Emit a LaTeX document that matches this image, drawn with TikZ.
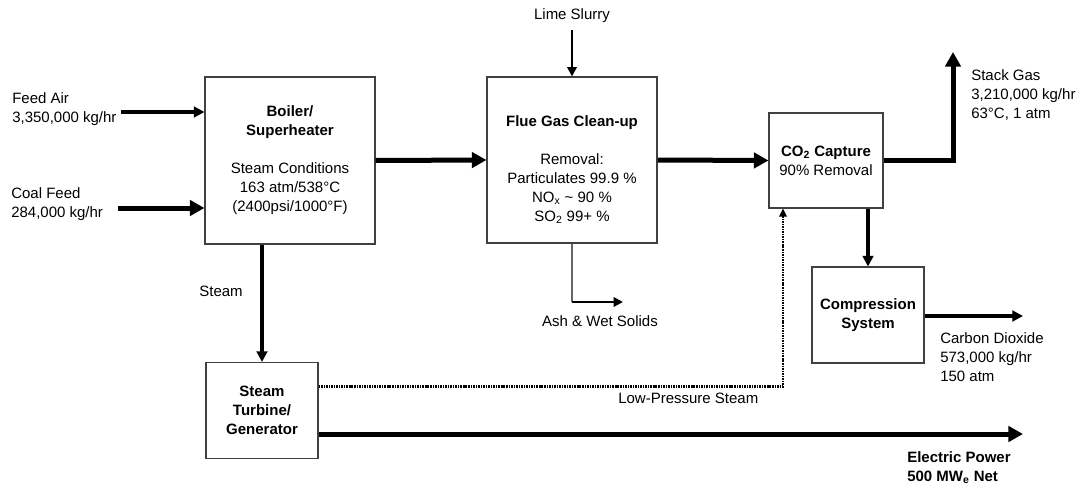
\documentclass[tikz,border=0pt]{standalone}
\usepackage{fontspec}
\setmainfont{Liberation Sans}
\usetikzlibrary{positioning}
\usetikzlibrary{arrows.meta}

\begin{document}
\begin{tikzpicture}[
                x=0.75pt, y=-0.75pt,
                every node/.style={font=\fontsize{11.25}{14.25}\selectfont, inner sep=0pt},
                unitbox/.style={rectangle, draw=black!75, line width=0.8pt, fill=white, align=center},
                streamlabel/.style={align=left},
                mainflow/.style={line width=3.75pt, -{Triangle[length=11pt, width=11.5pt]}},
                sideflow/.style={line width=3pt, -{Triangle[length=8pt, width=8pt]}},
                thinflow/.style={line width=1.5pt, -{Triangle[length=7pt, width=7pt]}},
                ashline/.style={draw=black!60, line width=1.2pt},
                lpsteam/.style={line width=1.6pt, dash pattern=on 1.2pt off 0.7pt, -{Triangle[length=6pt, width=5.5pt]}},
            ]
            \useasboundingbox (0,0) rectangle (1078,489);

            % Units
            \node[unitbox, minimum width=127.5pt, minimum height=125.25pt] (boiler) at (290,160.5)
                {\textbf{Boiler/}\\\textbf{Superheater}\\[14.25pt]Steam Conditions\\163 atm/538°C\\(2400psi/1000°F)};
            \node[unitbox, minimum width=127.5pt, minimum height=124.5pt] (flue) at (572,160) {};
            \node[align=center] (fluetext) at ([yshift=-7pt]flue.center)
                {\textbf{Flue Gas Clean-up}\\[14.25pt]Removal:\\Particulates 99.9 \%\\NO\textsubscript{x} \textasciitilde{} 90 \%\\SO\textsubscript{2} 99+ \%};
            \node[unitbox, minimum width=85.5pt, minimum height=71.25pt] (co2) at (826,160.5)
                {\textbf{CO\textsubscript{2} Capture}\\90\% Removal};
            \node[unitbox, minimum width=84pt, minimum height=72pt] (comp) at (868,315)
                {\textbf{Compression}\\\textbf{System}};
            \node[unitbox, minimum width=84pt, minimum height=72pt] (turbine) at (262,410.5)
                {\textbf{Steam}\\\textbf{Turbine/}\\\textbf{Generator}};

            % Stream labels
            \node[streamlabel, anchor=west] (feedair)  at (12,109.5) {Feed Air\\3,350,000 kg/hr};
            \node[streamlabel, anchor=west] (coalfeed) at (11,204.5) {Coal Feed\\284,000 kg/hr};
            \node (lime) at (572,16) {Lime Slurry};
            \node[anchor=east] (steamlbl) at (243,291) {Steam};
            \node (ashlbl) at (600,321) {Ash \& Wet Solids};
            \node[anchor=west] (lplbl) at (618,398) {Low-Pressure Steam};
            \node[streamlabel, anchor=west] (stackgas) at (971,95.5) {Stack Gas\\3,210,000 kg/hr\\63°C, 1 atm};
            \node[streamlabel, anchor=west] (co2prod)  at (940,357) {Carbon Dioxide\\573,000 kg/hr\\150 atm};
            \node[streamlabel, anchor=west] (power)    at (907,467.5) {\textbf{Electric Power}\\\textbf{500 MW\textsubscript{e} Net}};

            % Free ends
            \coordinate (airin)     at (121,112);
            \coordinate (coalin)    at (118,208);
            \coordinate (stacktop)  at (953,52);
            \coordinate (co2out)    at (1023,316);
            \coordinate (ashout)    at (623,302);
            \coordinate (lpcorner)  at (783,386.5);
            \coordinate (powerout)  at (1023,434);

            %Lines
            \draw[sideflow] (airin) -- (airin -| boiler.west);
            \draw[mainflow] (coalin) -- (coalin -| boiler.west);
            \draw[thinflow, shorten <=5pt] (lime) -- (flue.north);

            \draw[mainflow] (boiler.east) -- (flue.west);
            \draw[mainflow] (flue.east) -- (co2.west);
            \draw[mainflow] (co2.east) -| (stacktop);
            \draw[sideflow, line width=3.5pt] (comp.north |- co2.south) -- (comp.north);
            \draw[sideflow] (comp.east |- co2out) -- (co2out);

            \draw[ashline] (flue.south) -- (flue.south |- ashout);
            \draw[thinflow] (flue.south |- ashout) -- (ashout);

            \draw[sideflow] (boiler.south -| turbine.north) -- (turbine.north);
            \draw[lpsteam] (turbine.east |- lpcorner) -| (co2.south -| lpcorner);
            \draw[mainflow] (turbine.east |- powerout) -- (powerout);
        \end{tikzpicture}
\end{document}
